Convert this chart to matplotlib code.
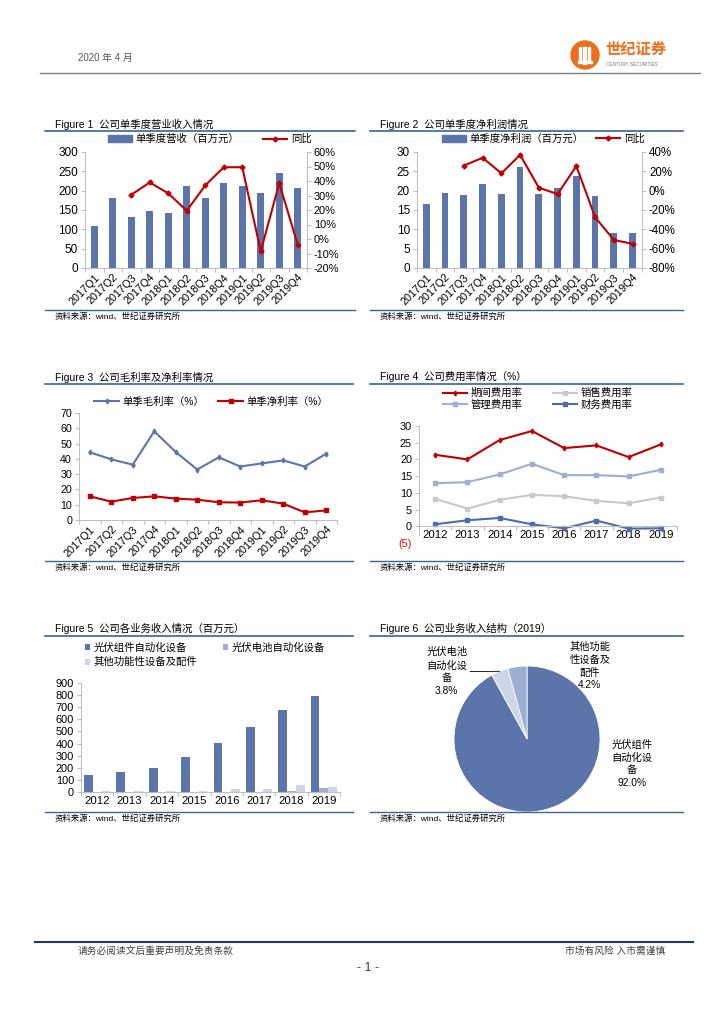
import numpy as np
import matplotlib
matplotlib.use("Agg")
import matplotlib.pyplot as plt
from matplotlib.lines import Line2D
from matplotlib.patches import Patch, Circle, Rectangle

plt.rcParams["font.family"] = ["Liberation Sans", "Noto Sans CJK SC"]
plt.rcParams["axes.unicode_minus"] = False

W, H = 724, 1024

# ---- data ----
quarters = ["2017Q1", "2017Q2", "2017Q3", "2017Q4", "2018Q1", "2018Q2",
            "2018Q3", "2018Q4", "2019Q1", "2019Q2", "2019Q3", "2019Q4"]
revenue = [108, 180, 132, 148, 143, 213, 180, 220, 212, 195, 245, 208]
revenue_yoy = [np.nan, np.nan, 30.5, 39, 31.5, 19.5, 37, 49.5, 49.5, -8.5, 38.5, -4]
profit = [16.5, 19.3, 18.8, 21.8, 19.2, 26.1, 19.2, 20.6, 23.7, 18.6, 9.0, 9.0]
profit_yoy = [np.nan, np.nan, 26, 34, 18, 37, 3, -3.5, 25.5, -27.5, -51, -55]
gross_margin = [44.3, 39.7, 36.2, 58.0, 44.5, 33.0, 41.0, 35.0, 37.0, 39.0, 35.0, 43.4]
net_margin = [15.5, 12.0, 14.4, 15.5, 14.0, 13.3, 11.6, 11.4, 12.9, 10.7, 5.0, 6.3]

years = ["2012", "2013", "2014", "2015", "2016", "2017", "2018", "2019"]
period_rate = [21.4, 20.0, 25.8, 28.5, 23.4, 24.2, 20.7, 24.5]
admin_rate = [12.9, 13.2, 15.5, 18.7, 15.3, 15.3, 14.9, 16.9]
sales_rate = [8.2, 5.3, 7.9, 9.4, 9.0, 7.6, 6.9, 8.6]
finance_rate = [0.6, 1.8, 2.5, 0.6, -0.6, 1.7, -0.7, -0.6]

module_rev = [141, 166, 197, 285, 402, 540, 679, 795]
cell_rev = [0, 0, 0, 0, 0, 0, 12, 33]
other_rev = [6, 6, 6, 6, 27, 27, 55, 38]

pie_labels = ["光伏组件\n自动化设\n备", "光伏电池\n自动化设\n备", "其他功能\n性设备及\n配件"]
pie_shares = [92.0, 3.8, 4.2]

BAR = "#5B75AB"
RED = "#C00000"
MID = "#9DAED3"
LIGHT = "#CDD6E8"
GRID = "#BFBFBF"
RULE = "#3A6496"

fig = plt.figure(figsize=(W / 100, H / 100), dpi=100)


def fx(x):
    return x / W


def fy(y):
    return 1 - y / H


def add_px(l, t, r, b):
    return fig.add_axes([fx(l), fy(b), (r - l) / W, (b - t) / H])


def hline(x0, x1, y, color, lw):
    fig.add_artist(Line2D([fx(x0), fx(x1)], [fy(y), fy(y)], transform=fig.transFigure,
                          color=color, lw=lw))


def text(x, y, s, **kw):
    kw.setdefault("va", "center")
    fig.text(fx(x), fy(y), s, **kw)


def style(ax, size):
    for side in ["top", "right"]:
        ax.spines[side].set_visible(False)
    for side in ["left", "bottom"]:
        ax.spines[side].set_color(GRID)
        ax.spines[side].set_linewidth(0.8)
    ax.tick_params(axis="both", which="both", color=GRID, length=3, width=0.8,
                   labelsize=size, pad=2)


def right_style(ax, size):
    for side in ["top", "left", "bottom"]:
        ax.spines[side].set_visible(False)
    ax.spines["right"].set_color(GRID)
    ax.spines["right"].set_linewidth(0.8)
    ax.tick_params(color=GRID, length=3, width=0.8, labelsize=size, pad=2)


def cat_axis(ax, labels, size, rotation=0):
    n = len(labels)
    ax.set_xlim(-0.5, n - 0.5)
    ax.set_xticks(np.arange(n + 1) - 0.5)
    ax.set_xticklabels([])
    ax.set_xticks(np.arange(n), minor=True)
    if rotation:
        ax.set_xticklabels(labels, minor=True, rotation=rotation, ha="right",
                           rotation_mode="anchor", fontsize=size)
    else:
        ax.set_xticklabels(labels, minor=True, fontsize=size)
    ax.tick_params(axis="x", which="minor", length=0, pad=3)


def panel(x0, x1, y_title, y_rule, y_bottom, title):
    text(x0 + 10, y_title, title, fontsize=7.5)
    hline(x0, x1, y_rule, RULE, 1.2)
    hline(x0, x1, y_bottom, RULE, 1.0)
    text(x0 + 10, y_bottom + 7, "资料来源：wind、世纪证券研究所", fontsize=6)


# ---- page header / footer ----
text(78, 58, "2020 年 4 月", fontsize=7, color="#555555")
hline(40, 700, 73, "#808080", 1.0)
logo = add_px(565, 35, 690, 75)
logo.set_xlim(565, 690)
logo.set_ylim(75, 35)
logo.set_aspect("equal")
logo.axis("off")
logo.add_patch(Circle((585, 55), 14, color="#EE6E1E"))
for bx, bh in [(579, 16), (583.5, 20), (588, 16)]:
    logo.add_patch(Rectangle((bx, 47), 2.2, bh * 0.85, color="white"))
logo.add_patch(Rectangle((578, 61), 14, 2.2, color="white"))
logo.text(605, 50, "世纪证券", fontsize=11, fontweight="bold", color="#EE6E1E", va="center")
logo.text(606, 64, "CENTURY SECURITIES", fontsize=3.4, color="#777777", va="center")

hline(35, 693, 942, "#1F3864", 1.5)
text(78, 951, "请务必阅读文后重要声明及免责条款", fontsize=7, color="#404040")
text(665, 951, "市场有风险 入市需谨慎", fontsize=7, color="#404040", ha="right")
text(368, 968, "- 1 -", fontsize=9, color="#404040", ha="center")

# ---- panel frames ----
panel(45, 355, 124, 131, 310, "Figure 1  公司单季度营业收入情况")
panel(370, 683, 124, 131, 310, "Figure 2  公司单季度净利润情况")
panel(45, 353, 377, 384, 561, "Figure 3  公司毛利率及净利率情况")
panel(370, 683, 377, 384, 561, "Figure 4  公司费用率情况（%）")
panel(45, 353, 628, 636, 812, "Figure 5  公司各业务收入情况（百万元）")
panel(370, 683, 628, 636, 812, "Figure 6  公司业务收入结构（2019）")

leg_kw = dict(frameon=False, fontsize=7.5, borderpad=0, borderaxespad=0,
              handletextpad=0.35, loc="center left")

# ---- Figure 1 ----
x = np.arange(len(quarters))
ax1 = add_px(85, 152, 307, 268)
style(ax1, 8.5)
ax1.bar(x, revenue, width=0.36, color=BAR)
ax1.set_ylim(0, 300)
ax1.set_yticks(range(0, 301, 50))
cat_axis(ax1, quarters, 7.8, rotation=45)
ax1r = ax1.twinx()
ax1r.plot(x, np.array(revenue_yoy) / 100, color=RED, lw=1.5, marker="D", ms=2.5)
ax1r.set_ylim(-0.2, 0.6)
ax1r.set_yticks(np.arange(-0.2, 0.61, 0.1))
ax1r.set_yticklabels([f"{v:.0f}%" for v in np.arange(-20, 61, 10)])
right_style(ax1r, 7.9)
fig.legend([Patch(color=BAR), Line2D([], [], color=RED, lw=1.5, marker="D", ms=2.5)],
           ["单季度营收（百万元）", "同比"], ncol=2, columnspacing=2.3, handlelength=2.3,
           bbox_to_anchor=(fx(108), fy(139)), **leg_kw)

# ---- Figure 2 ----
ax2 = add_px(417, 152, 642, 268)
style(ax2, 8.5)
ax2.bar(x, profit, width=0.36, color=BAR)
ax2.set_ylim(0, 30)
ax2.set_yticks(range(0, 31, 5))
cat_axis(ax2, quarters, 7.8, rotation=45)
ax2r = ax2.twinx()
ax2r.plot(x, np.array(profit_yoy) / 100, color=RED, lw=1.5, marker="D", ms=2.5)
ax2r.set_ylim(-0.8, 0.4)
ax2r.set_yticks(np.arange(-0.8, 0.41, 0.2))
ax2r.set_yticklabels([f"{v:.0f}%" for v in np.arange(-80, 41, 20)])
right_style(ax2r, 8.3)
fig.legend([Patch(color=BAR), Line2D([], [], color=RED, lw=1.5, marker="D", ms=2.5)],
           ["单季度净利润（百万元）", "同比"], ncol=2, columnspacing=1.2, handlelength=2.3,
           bbox_to_anchor=(fx(442), fy(139)), **leg_kw)

# ---- Figure 3 ----
ax3 = add_px(79, 413, 337, 520)
style(ax3, 7.7)
ax3.plot(x, gross_margin, color=BAR, lw=1.5, marker="d", ms=2.5, label="单季毛利率（%）")
ax3.plot(x, net_margin, color=RED, lw=1.5, marker="s", ms=2.5, label="单季净利率（%）")
ax3.set_ylim(0, 70)
ax3.set_yticks(range(0, 71, 10))
cat_axis(ax3, quarters, 7.8, rotation=45)
h3, l3 = ax3.get_legend_handles_labels()
fig.legend(h3, l3, ncol=2, columnspacing=1.3, handlelength=2.4,
           bbox_to_anchor=(fx(94), fy(402)), **leg_kw)

# ---- Figure 4 ----
xy = np.arange(len(years))
ax4 = add_px(419, 426, 677, 543)
style(ax4, 7.8)
ax4.plot(xy, period_rate, color=RED, lw=1.5, marker="d", ms=2.5, label="期间费用率")
ax4.plot(xy, admin_rate, color=MID, lw=1.5, marker="s", ms=2.5, label="管理费用率")
ax4.plot(xy, sales_rate, color="#C9C9C9", lw=1.5, marker="s", ms=2.5, label="销售费用率")
ax4.plot(xy, finance_rate, color="#4F6BA8", lw=1.5, marker="s", ms=2.5, label="财务费用率")
ax4.set_ylim(-5, 30)
ax4.set_yticks(range(-5, 31, 5))
ax4.set_yticklabels(["(5)"] + [str(v) for v in range(0, 31, 5)])
ax4.get_yticklabels()[0].set_color("red")
ax4.yaxis.get_major_ticks()[0].tick1line.set_visible(False)
ax4.spines["bottom"].set_position(("data", 0))
ax4.spines["left"].set_bounds(-2.5, 30)
cat_axis(ax4, years, 8.2)
h4, l4 = ax4.get_legend_handles_labels()
fig.legend(h4, l4, ncol=2, columnspacing=2.9, handlelength=2.3, labelspacing=0.15,
           bbox_to_anchor=(fx(443), fy(399)), **leg_kw)

# ---- Figure 5 ----
ax5 = add_px(81, 683, 340, 792)
style(ax5, 7.9)
bw = 0.27
ax5.bar(xy - bw, module_rev, width=bw, color=BAR, label="光伏组件自动化设备")
ax5.bar(xy, cell_rev, width=bw, color=MID, label="光伏电池自动化设备")
ax5.bar(xy + bw, other_rev, width=bw, color=LIGHT, label="其他功能性设备及配件")
ax5.set_ylim(0, 900)
ax5.set_yticks(range(0, 901, 100))
cat_axis(ax5, years, 8.2)
h5, l5 = ax5.get_legend_handles_labels()
fig.legend([h5[0], h5[2], h5[1]], [l5[0], l5[2], l5[1]], ncol=2, columnspacing=2.4,
           handlelength=0.5, handleheight=0.5, labelspacing=0.4,
           bbox_to_anchor=(fx(85), fy(655)), **leg_kw)

# ---- Figure 6 ----
ax6 = add_px(454, 666, 600, 812)
wedges, _ = ax6.pie(pie_shares, colors=[BAR, LIGHT, MID], startangle=90, counterclock=False,
                    radius=1, wedgeprops=dict(edgecolor="white", linewidth=0.6))
ax6.set_xlim(-1, 1)
ax6.set_ylim(-1, 1)
ax6.set_aspect("equal")
lab_kw = dict(ha="center", va="center", fontsize=7.4, linespacing=1.35)
ax6.text(1.44, -0.34, f"{pie_labels[0]}\n{pie_shares[0]:.1f}%", clip_on=False, **lab_kw)
ax6.text(0.86, 1.0, f"{pie_labels[2]}\n{pie_shares[2]:.1f}%", clip_on=False, **lab_kw)
w = wedges[1]
theta = np.deg2rad((w.theta1 + w.theta2) / 2)
ax6.annotate(f"{pie_labels[1]}\n{pie_shares[1]:.1f}%", xy=(np.cos(theta), np.sin(theta)),
             xytext=(-1.1, 0.92), arrowprops=dict(arrowstyle="-", lw=0.6, color="black",
                                                  shrinkA=0, shrinkB=0),
             annotation_clip=False, **lab_kw)

fig.savefig("out.png", dpi=100)
